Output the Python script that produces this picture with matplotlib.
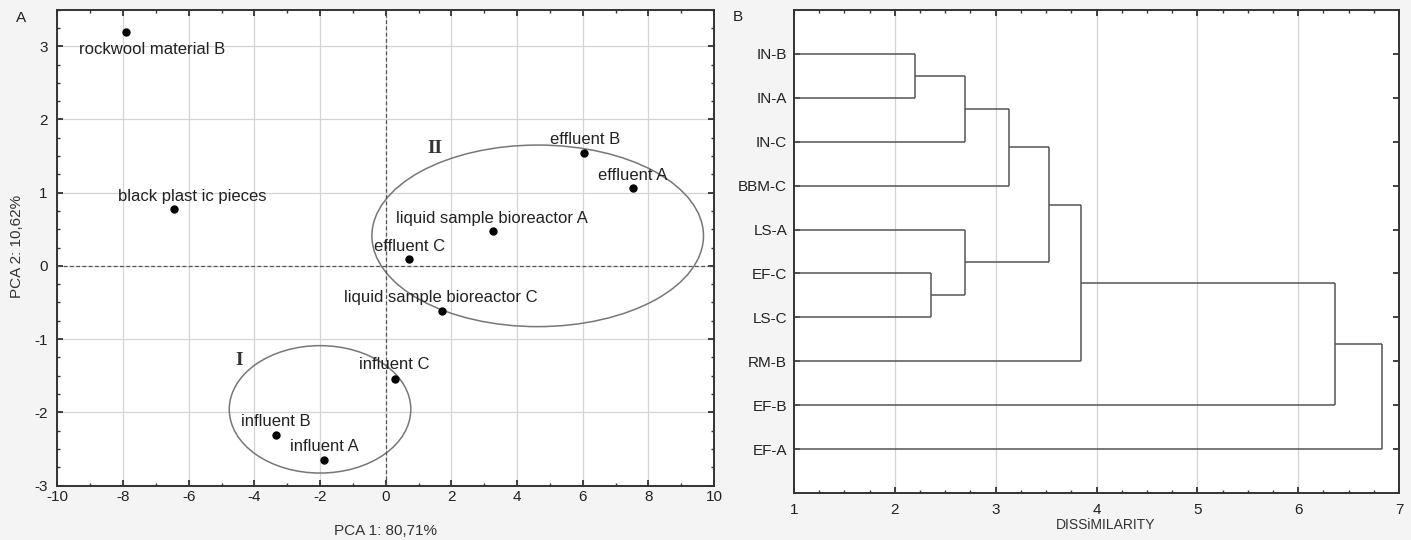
import matplotlib
matplotlib.use("Agg")
import matplotlib.pyplot as plt
from matplotlib.patches import Ellipse
from matplotlib.ticker import MultipleLocator

plt.rcParams['font.family'] = ['Liberation Sans', 'DejaVu Sans']
plt.rcParams['axes.unicode_minus'] = False

# ---- Panel A data (PCA) ----
sample_names = ["rockwool material B", "black plast ic pieces", "effluent B", "effluent A",
                "liquid sample bioreactor A", "effluent C", "liquid sample bioreactor C",
                "influent C", "influent B", "influent A"]
pc1 = [-7.9, -6.46, 6.03, 7.52, 3.26, 0.72, 1.72, 0.27, -3.33, -1.88]
pc2 = [3.2, 0.77, 1.54, 1.06, 0.475, 0.094, -0.62, -1.54, -2.31, -2.65]
label_x = [-9.33, -8.14, 4.99, 6.48, 0.31, -0.35, -1.26, -0.80, -4.41, -2.90]
label_y = [2.95, 0.95, 1.72, 1.24, 0.65, 0.27, -0.43, -1.35, -2.12, -2.47]

groups = ["I", "II"]
group_cx = [-2.0, 4.63]
group_cy = [-1.96, 0.41]
group_w = [5.53, 10.1]
group_h = [1.74, 2.48]
group_lx = [-4.46, 1.51]
group_ly = [-1.29, 1.60]

# ---- Panel B data (dendrogram) ----
leaves = ['IN-B', 'IN-A', 'IN-C', 'BBM-C', 'LS-A', 'EF-C', 'LS-C', 'RM-B', 'EF-B', 'EF-A']
merge_a = [0, 10, 11, 5, 4, 12, 15, 16, 17]
merge_b = [1, 2, 3, 6, 13, 14, 7, 8, 9]
merge_h = [2.20, 2.70, 3.13, 2.36, 2.70, 3.53, 3.85, 6.37, 6.83]

W, H = 1411, 540
fig = plt.figure(figsize=(W / 100, H / 100), dpi=100)
fig.patch.set_facecolor('#f4f4f4')

spine_c = '#333333'
grid_c = '#d4d4d4'
line_c = '#555555'

def style_axes(ax):
    for s in ax.spines.values():
        s.set_color(spine_c)
        s.set_linewidth(1.4)
    ax.tick_params(which='both', direction='in', top=True, right=True, color=spine_c)
    ax.tick_params(which='major', length=4, width=1.2, labelsize=11, colors='#222222')
    ax.tick_params(which='minor', length=2.5, width=1.0)

# Panel A
axA = fig.add_axes([57.4 / W, 1 - 485.5 / H, (714 - 57.4) / W, (485.5 - 9.6) / H])
axA.set_xlim(-10, 10)
axA.set_ylim(-3, 3.5)
axA.xaxis.set_major_locator(MultipleLocator(2))
axA.xaxis.set_minor_locator(MultipleLocator(1))
axA.yaxis.set_major_locator(MultipleLocator(1))
axA.yaxis.set_minor_locator(MultipleLocator(0.25))
axA.set_yticks([-3, -2, -1, 0, 1, 2, 3])
style_axes(axA)
axA.tick_params(axis='x', which='major', pad=3)
axA.tick_params(axis='y', which='major', pad=7)
axA.grid(True, which='major', color=grid_c, linewidth=0.9)
axA.set_axisbelow(True)
axA.axhline(0, color='#555555', linestyle=(0, (3, 2)), linewidth=0.9)
axA.axvline(0, color='#555555', linestyle=(0, (3, 2)), linewidth=0.9)

for cx, cy, w, h in zip(group_cx, group_cy, group_w, group_h):
    axA.add_patch(Ellipse((cx, cy), w, h, fill=False, edgecolor='#777777', linewidth=1.1))
for g, lx, ly in zip(groups, group_lx, group_ly):
    axA.text(lx, ly, g, family='Liberation Serif', fontweight='bold', fontsize=14,
             ha='center', va='center', color='#333333')

axA.plot(pc1, pc2, 'o', color='black', markersize=5, zorder=5)
for name, lx, ly in zip(sample_names, label_x, label_y):
    axA.text(lx, ly, name, fontsize=12, ha='left', va='center', color='#222222')

axA.set_xlabel("PCA 1: 80,71%", fontsize=11, color='#333333')
axA.xaxis.set_label_coords(0.5, -0.0956)
axA.xaxis.label.set_va('center')
axA.set_ylabel("PCA 2: 10,62%", fontsize=11, color='#333333')
axA.yaxis.set_label_coords(-0.0615, 0.503)
axA.yaxis.label.set_va('center')

fig.text(20.7 / W, 1 - 18 / H, "A", fontsize=11, ha='center', va='center', color='#222222')

# Panel B
axB = fig.add_axes([794 / W, 1 - 493 / H, (1399 - 794) / W, (493 - 10) / H])
axB.set_xlim(1, 7)
axB.set_ylim(len(leaves) + 1, 0)
axB.xaxis.set_major_locator(MultipleLocator(1))
axB.xaxis.set_minor_locator(MultipleLocator(0.25))
axB.set_yticks(range(1, len(leaves) + 1))
axB.set_yticklabels(leaves)
style_axes(axB)
axB.tick_params(axis='x', which='major', pad=7)
axB.tick_params(axis='y', which='major', pad=5)
axB.grid(True, axis='x', which='major', color=grid_c, linewidth=0.9)
axB.set_axisbelow(True)

pos = {i: i + 1 for i in range(len(leaves))}
hgt = {i: 1.0 for i in range(len(leaves))}
nid = len(leaves)
for a, b, h in zip(merge_a, merge_b, merge_h):
    ya, yb = pos[a], pos[b]
    axB.plot([hgt[a], h], [ya, ya], color=line_c, linewidth=1.1, solid_capstyle='butt')
    axB.plot([hgt[b], h], [yb, yb], color=line_c, linewidth=1.1, solid_capstyle='butt')
    axB.plot([h, h], [ya, yb], color=line_c, linewidth=1.1, solid_capstyle='butt')
    pos[nid] = (ya + yb) / 2
    hgt[nid] = h
    nid += 1

axB.set_xlabel("DISSiMILARITY", fontsize=10, color='#333333')
axB.xaxis.set_label_coords(0.515, -0.066)
axB.xaxis.label.set_va('center')

fig.text(737.6 / W, 1 - 17 / H, "B", fontsize=11, ha='center', va='center', color='#222222')

fig.savefig("out.png", dpi=100, facecolor=fig.get_facecolor())
